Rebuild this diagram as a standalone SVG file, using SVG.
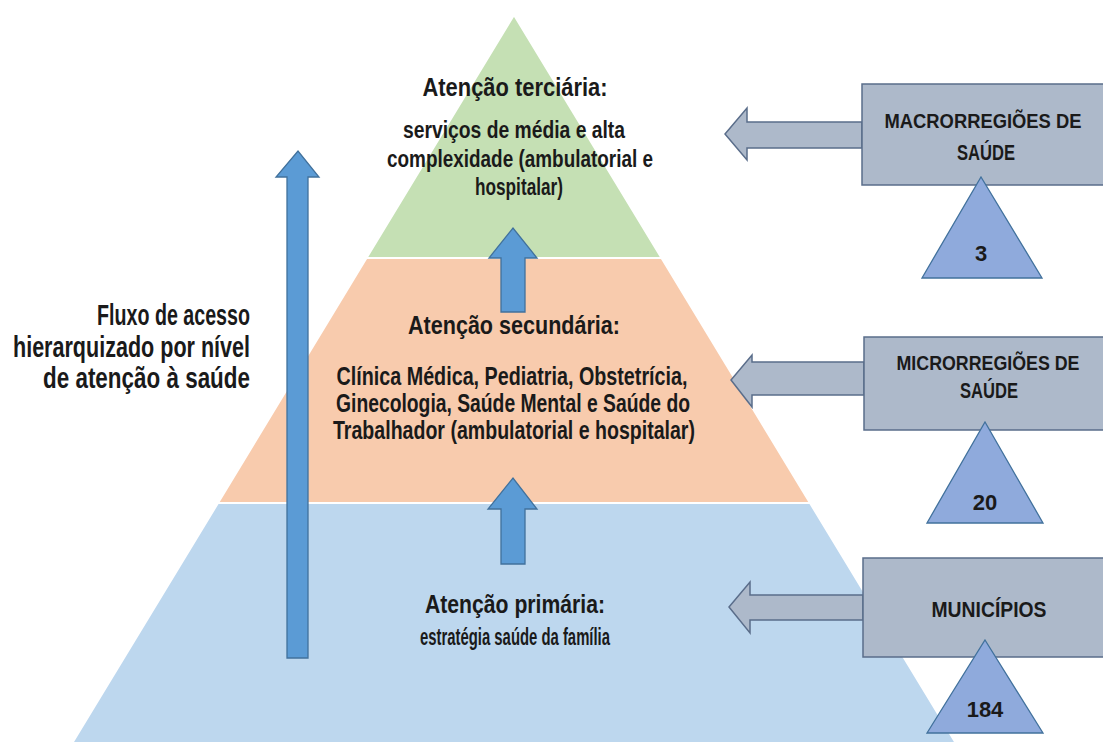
<svg xmlns="http://www.w3.org/2000/svg" width="1103" height="742" viewBox="0 0 1103 742">
<style>
text{font-family:"Liberation Sans",Arial,sans-serif;font-weight:bold;fill:#1a1a1a;text-anchor:middle}
.t{font-size:26px}
.b{font-size:23px}
.s{font-size:25px}
.l{font-size:29px;text-anchor:end}
.bx{font-size:22px}
.bw{font-size:20px}
.layer{stroke:#fff;stroke-width:2}
.up{fill:#5B9BD5;stroke:#41719C;stroke-width:1.3}
.box{fill:#ADB9CA;stroke:#5A6D8A;stroke-width:1.5}
.tri{fill:#8FAADC;stroke:#41719C;stroke-width:1.3}
</style>
<rect width="1103" height="742" fill="#fff"/>
<g id="primaria">
<polygon class="layer" fill="#BDD7EE" points="218,503 810,503 960,750 68,750"/>
<text class="t" x="515" y="613" textLength="180" lengthAdjust="spacingAndGlyphs">Atenção primária:</text>
<text class="b" x="515" y="645" textLength="190" lengthAdjust="spacingAndGlyphs">estratégia saúde da família</text>
</g>
<g id="secundaria">
<polygon class="layer" fill="#F8CBAD" points="366.5,258 661.5,258 810,503 218,503"/>
<text class="t" x="514" y="334" textLength="212" lengthAdjust="spacingAndGlyphs">Atenção secundária:</text>
<text class="s" x="512" y="385" textLength="351" lengthAdjust="spacingAndGlyphs">Clínica Médica, Pediatria, Obstetrícia,</text>
<text class="s" x="513" y="412" textLength="354" lengthAdjust="spacingAndGlyphs">Ginecologia, Saúde Mental e Saúde do</text>
<text class="s" x="514" y="439" textLength="362" lengthAdjust="spacingAndGlyphs">Trabalhador (ambulatorial e hospitalar)</text>
</g>
<g id="terciaria">
<polygon class="layer" fill="#C5E0B4" points="514,15 661.5,258 366.5,258"/>
<text class="t" x="515" y="96" textLength="185" lengthAdjust="spacingAndGlyphs">Atenção terciária:</text>
<text class="b" x="514" y="138" textLength="222" lengthAdjust="spacingAndGlyphs">serviços de média e alta</text>
<text class="b" x="520" y="167" textLength="266" lengthAdjust="spacingAndGlyphs">complexidade (ambulatorial e</text>
<text class="b" x="519" y="195" textLength="88" lengthAdjust="spacingAndGlyphs">hospitalar)</text>
</g>
<g id="fluxo">
<text class="l" x="250" y="325" textLength="153" lengthAdjust="spacingAndGlyphs">Fluxo de acesso</text>
<text class="l" x="250" y="357" textLength="237" lengthAdjust="spacingAndGlyphs">hierarquizado por nível</text>
<text class="l" x="250" y="388" textLength="207" lengthAdjust="spacingAndGlyphs">de atenção à saúde</text>
</g>
<g id="connectors">
<polygon class="up" points="287,658 287,177 276,177 298,151 319,177 308,177 308,658"/>
<polygon class="up" points="501,312 501,258 489,258 513,228 537,258 525,258 525,312"/>
<polygon class="up" points="501,564 501,509 488,509 513,478 537,509 525,509 525,564"/>
<polygon class="box" points="862,122 747,122 747,108 725,134 747,160 747,148 862,148"/>
<polygon class="box" points="864,362 752,362 752,355 731,380 752,407 752,395 864,395"/>
<polygon class="box" points="863,595 750,595 750,582 729,607 750,633 750,620 863,620"/>
</g>
<g id="macro">
<rect class="box" x="862" y="84" width="242" height="101"/>
<text class="bw" x="983" y="128" textLength="197" lengthAdjust="spacingAndGlyphs">MACRORREGIÕES DE</text>
<text class="bx" x="986" y="160" textLength="58" lengthAdjust="spacingAndGlyphs">SAÚDE</text>
<polygon class="tri" points="981,177 1042,278 922,278"/>
<text class="bx" x="981" y="261">3</text>
</g>
<g id="micro">
<rect class="box" x="864" y="337" width="240" height="93"/>
<text class="bw" x="988" y="370" textLength="183" lengthAdjust="spacingAndGlyphs">MICRORREGIÕES DE</text>
<text class="bx" x="989" y="398" textLength="58" lengthAdjust="spacingAndGlyphs">SAÚDE</text>
<polygon class="tri" points="985,422 1043,523 927,523"/>
<text class="bx" x="985" y="510">20</text>
</g>
<g id="municipios">
<rect class="box" x="863" y="558" width="241" height="99"/>
<text class="bx" x="989" y="617" textLength="115" lengthAdjust="spacingAndGlyphs">MUNICÍPIOS</text>
<polygon class="tri" points="985,640 1043,733 927,733"/>
<text class="bx" x="985" y="717">184</text>
</g>
</svg>
